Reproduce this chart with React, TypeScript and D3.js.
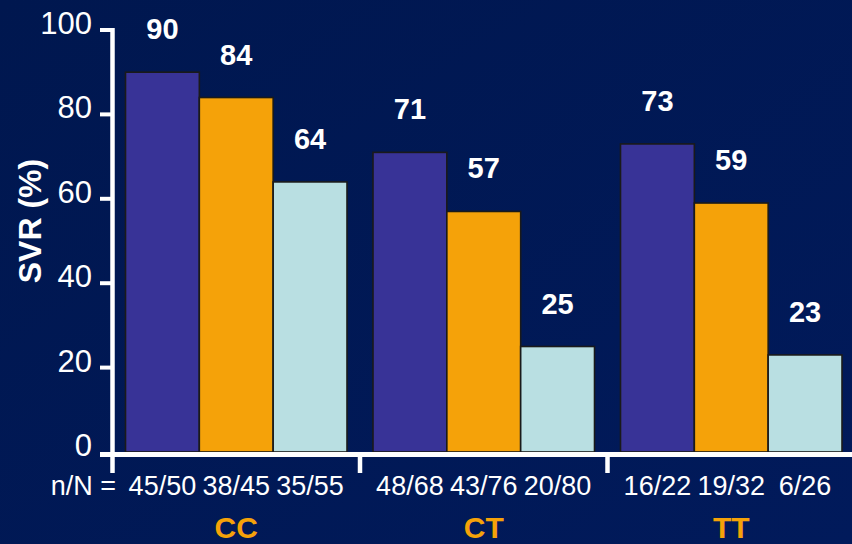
import React from "react";
import * as d3 from "d3";

const groups = ["CC", "CT", "TT"];
const series = ["s1", "s2", "s3"];
const svrValues = [
  [90, 84, 64],
  [71, 57, 25],
  [73, 59, 23],
];
const nLabels = [
  ["45/50", "38/45", "35/55"],
  ["48/68", "43/76", "20/80"],
  ["16/22", "19/32", "6/26"],
];
const yTicks = [0, 20, 40, 60, 80, 100];
const seriesColors = ["#383397", "#F5A209", "#B9DFE2"];

const W = 852;
const H = 544;
const axisX = 112.5;
const baseY = 452;
const FONT = "'Liberation Sans', Arial, sans-serif";

export default function App() {
  const y = d3.scaleLinear().domain([0, 100]).range([baseY, 30]);
  const x0 = d3
    .scaleBand<string>()
    .domain(groups)
    .range([axisX, 855])
    .paddingInner(0.105)
    .paddingOuter(0.0525);
  const x1 = d3.scaleBand<string>().domain(series).range([0, x0.bandwidth()]);
  const step = x0.step();
  const separators = groups.slice(1).map((g) => (x0(g) as number) - (step - x0.bandwidth()) / 2);

  return (
    <svg
      width={W}
      height={H}
      style={{ position: "fixed", left: 0, top: 0, display: "block" }}
      fontFamily={FONT}
    >
      <defs>
        <linearGradient id="bg" x1="0" y1="0" x2="1" y2="1">
          <stop offset="0" stopColor="#00174F" />
          <stop offset="1" stopColor="#011A5B" />
        </linearGradient>
      </defs>
      <rect x={0} y={0} width={W} height={H} fill="url(#bg)" />

      {/* bars */}
      {groups.map((g, gi) =>
        series.map((s, si) => {
          const v = svrValues[gi][si];
          const bx = (x0(g) as number) + (x1(s) as number);
          return (
            <g key={g + s}>
              <rect
                x={bx}
                y={y(v)}
                width={x1.bandwidth()}
                height={baseY - y(v)}
                fill={seriesColors[si]}
                stroke="#1a1a1a"
                strokeWidth={1.6}
              />
              <text
                x={bx + x1.bandwidth() / 2}
                y={y(v) - 33}
                fill="#ffffff"
                fontSize={29}
                fontWeight="bold"
                textAnchor="middle"
              >
                {v}
              </text>
              <text
                x={bx + x1.bandwidth() / 2}
                y={495}
                fill="#ffffff"
                fontSize={27}
                textAnchor="middle"
              >
                {nLabels[gi][si]}
              </text>
            </g>
          );
        })
      )}

      {/* group labels */}
      {groups.map((g) => (
        <text
          key={g}
          x={(x0(g) as number) + x0.bandwidth() / 2}
          y={538}
          fill="#F5A209"
          fontSize={30}
          fontWeight="bold"
          textAnchor="middle"
        >
          {g}
        </text>
      ))}

      <text x={116} y={495} fill="#ffffff" fontSize={27} textAnchor="end">
        n/N =
      </text>

      {/* y axis */}
      <line x1={axisX} x2={axisX} y1={28} y2={473} stroke="#ffffff" strokeWidth={4.5} />
      {yTicks.map((t) => (
        <g key={t}>
          <line x1={100} x2={axisX} y1={y(t) + (t === 0 ? 2.5 : 0)} y2={y(t) + (t === 0 ? 2.5 : 0)} stroke="#ffffff" strokeWidth={4} />
          <text x={92} y={y(t) + 4} fill="#ffffff" fontSize={31} textAnchor="end">
            {t}
          </text>
        </g>
      ))}

      {/* x axis */}
      <line x1={100} x2={W} y1={454.5} y2={454.5} stroke="#ffffff" strokeWidth={5} />
      {separators.map((sx, i) => (
        <line key={i} x1={sx} x2={sx} y1={454} y2={473} stroke="#ffffff" strokeWidth={4.5} />
      ))}

      <text
        transform="translate(41,221) rotate(-90)"
        fill="#ffffff"
        fontSize={32}
        fontWeight="bold"
        textAnchor="middle"
      >
        SVR (%)
      </text>
    </svg>
  );
}
